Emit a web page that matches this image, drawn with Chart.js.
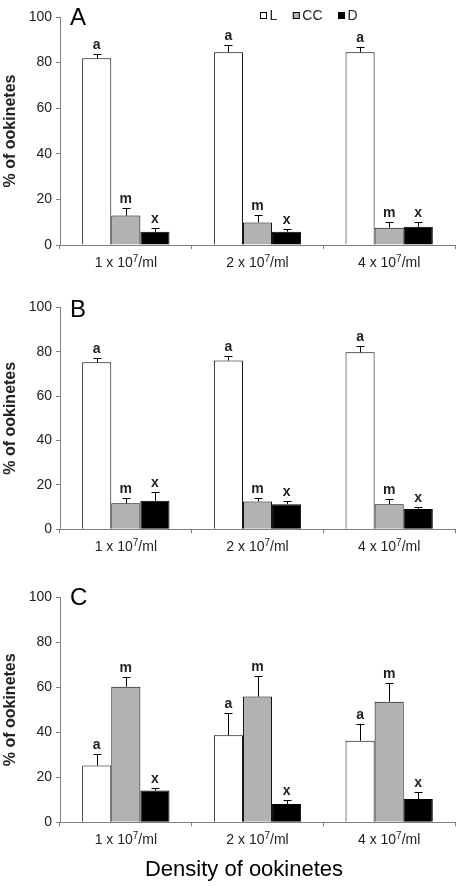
<!DOCTYPE html>
<html><head><meta charset="utf-8">
<script src="https://cdn.jsdelivr.net/npm/chart.js@4.4.1/dist/chart.umd.min.js"></script>
<style>
html,body{margin:0;padding:0;background:#fff;width:463px;height:887px;overflow:hidden}
.p{position:absolute;left:0;width:463px}
canvas{display:block}
</style></head><body>
<div class="p" style="top:0;height:290px"><canvas id="cA" width="463" height="290"></canvas></div>
<div class="p" style="top:290px;height:290px"><canvas id="cB" width="463" height="290"></canvas></div>
<div class="p" style="top:580px;height:307px"><canvas id="cC" width="463" height="307"></canvas></div>
<script>
// ---- data ----
const categories = ['1 x 10\u2077/ml', '2 x 10\u2077/ml', '4 x 10\u2077/ml'];
const seriesNames = ['L', 'CC', 'D'];
const seriesLetters = ['a', 'm', 'x'];
const yTickValues = [0, 20, 40, 60, 80, 100];

const A_L = [81.9, 84.5, 84.5];   const A_L_err = [1.7, 3.2, 2.2];
const A_CC = [12.9, 9.9, 7.6];    const A_CC_err = [3.5, 3.1, 2.3];
const A_D = [5.8, 5.8, 8.0];      const A_D_err = [1.8, 1.4, 1.9];

const B_L = [75.2, 76.0, 79.7];   const B_L_err = [1.8, 1.9, 2.7];
const B_CC = [11.7, 12.5, 11.3];  const B_CC_err = [2.3, 1.5, 2.2];
const B_D = [12.9, 11.3, 9.2];    const B_D_err = [3.8, 1.3, 0.7];

const C_L = [25.3, 38.7, 36.3];   const C_L_err = [4.9, 10.0, 7.6];
const C_CC = [60.3, 55.9, 53.6];  const C_CC_err = [4.4, 9.3, 8.5];
const C_D = [14.1, 8.1, 10.4];    const C_D_err = [1.3, 1.7, 2.9];

const yLabel = '% of ookinetes';
const xLabel = 'Density of ookinetes';

// ---- styles ----
const FONT = '"Liberation Sans", Arial, Helvetica, sans-serif';
const fills = ['#ffffff', '#b2b2b2', '#000000'];
const TXT = '#222222';
const AXIS = '#808080';

function drawCategoryLabel(ctx, text, cx, topY) {
  // render "10\u2077" with a real raised superscript
  const idx = text.indexOf('\u2077');
  const pre = idx >= 0 ? text.slice(0, idx) : text;
  const sup = idx >= 0 ? '7' : '';
  const post = idx >= 0 ? text.slice(idx + 1) : '';
  const big = '14px ' + FONT, small = '10px ' + FONT;
  ctx.font = big; const w1 = ctx.measureText(pre).width, w3 = ctx.measureText(post).width;
  ctx.font = small; const w2 = ctx.measureText(sup).width;
  let x = cx - (w1 + w2 + w3) / 2;
  const base = topY + 11;
  ctx.textAlign = 'left';
  ctx.textBaseline = 'alphabetic';
  ctx.fillStyle = TXT;
  ctx.font = big; ctx.fillText(pre, x, base); x += w1;
  ctx.font = small; ctx.fillText(sup, x, base - 4.5); x += w2;
  ctx.font = big; ctx.fillText(post, x, base);
}

const panelPlugin = {
  id: 'panelExtras',
  afterDatasetsDraw(chart, args, opts) {
    const ctx = chart.ctx;
    const y = chart.scales.y;
    const xs = chart.scales.x;
    ctx.save();
    // category labels
    chart.data.labels.forEach((lab, i) => {
      drawCategoryLabel(ctx, lab, xs.getPixelForValue(i), chart.chartArea.bottom + 10.5);
    });
    // error bars + letters
    chart.data.datasets.forEach((ds, di) => {
      const meta = chart.getDatasetMeta(di);
      meta.data.forEach((el, i) => {
        const v = ds.data[i], e = ds.errors[i];
        const yTop = Math.round(y.getPixelForValue(v + e)) + 0.5;
        const yBar = y.getPixelForValue(v);
        const x = Math.round(el.x) + 0.5;
        ctx.strokeStyle = '#000';
        ctx.lineWidth = 1;
        ctx.beginPath();
        ctx.moveTo(x, yBar);
        ctx.lineTo(x, yTop);
        ctx.moveTo(x - 4, yTop);
        ctx.lineTo(x + 4, yTop);
        ctx.stroke();
        ctx.fillStyle = TXT;
        ctx.font = 'bold 14px ' + FONT;
        ctx.textAlign = 'center';
        ctx.textBaseline = 'alphabetic';
        ctx.fillText(ds.letter, el.x, yTop - 5.5);
      });
    });
    // panel letter
    ctx.fillStyle = '#000';
    ctx.font = '24px ' + FONT;
    ctx.textAlign = 'left';
    ctx.textBaseline = 'alphabetic';
    ctx.fillText(opts.letter, 70, opts.letterY);
    // legend
    if (opts.legend) {
      let lx = 260;
      const ly = 15.5;
      ctx.font = '14px ' + FONT;
      ctx.textBaseline = 'middle';
      chart.data.datasets.forEach((ds) => {
        ctx.fillStyle = ds.backgroundColor;
        ctx.fillRect(lx, ly - 3.5, 7, 7);
        ctx.strokeStyle = '#000';
        ctx.lineWidth = 1;
        ctx.strokeRect(lx + 0.5, ly - 3.5 + 0.5, 6, 6);
        ctx.fillStyle = TXT;
        ctx.fillText(ds.label, lx + 9.5, ly + 0.5);
        lx += 9.5 + ctx.measureText(ds.label).width + 15.5;
      });
    }
    // x title
    if (opts.xTitle) {
      ctx.fillStyle = '#000';
      ctx.font = '22px ' + FONT;
      ctx.textAlign = 'center';
      ctx.textBaseline = 'middle';
      ctx.fillText(opts.xTitle, 244, opts.xTitleY);
    }
    ctx.restore();
  }
};

function makePanel(id, H, areaTop, areaBottom, L, Le, CC, CCe, D, De, extras) {
  const vals = [L, CC, D], errs = [Le, CCe, De];
  const datasets = seriesNames.map((n, i) => ({
    label: n,
    data: vals[i],
    errors: errs[i],
    letter: seriesLetters[i],
    backgroundColor: fills[i],
    borderColor: '#000',
    borderWidth: 1,
    borderSkipped: 'bottom',
    categoryPercentage: 0.663,
    barPercentage: 1.0
  }));
  return new Chart(document.getElementById(id), {
    type: 'bar',
    data: { labels: categories, datasets },
    options: {
      responsive: false,
      animation: false,
      layout: { padding: { top: areaTop, left: 0, right: 8, bottom: 0 } },
      plugins: { legend: { display: false }, tooltip: { enabled: false }, panelExtras: extras },
      scales: {
        x: {
          grid: { display: true, drawOnChartArea: false, drawTicks: true, tickLength: 4, color: AXIS, offset: true },
          border: { display: true, color: AXIS, width: 1 },
          ticks: { display: false },
          afterFit(s) { s.height = H - areaBottom; }
        },
        y: {
          min: 0, max: 100,
          afterBuildTicks(s) { s.ticks = yTickValues.map(v => ({ value: v })); },
          grid: { display: true, drawOnChartArea: false, drawTicks: true, tickLength: 4, color: AXIS },
          border: { display: true, color: AXIS, width: 1 },
          ticks: { color: TXT, font: { family: FONT, size: 14 }, padding: 4 },
          title: { display: true, text: yLabel, color: TXT, font: { family: FONT, size: 16, weight: 'bold' }, padding: { top: 1, bottom: 0 } },
          afterFit(s) { s.width = 60; }
        }
      }
    },
    plugins: [panelPlugin]
  });
}

makePanel('cA', 290, 17, 245, A_L, A_L_err, A_CC, A_CC_err, A_D, A_D_err,
  { letter: 'A', letterY: 25, legend: true });
makePanel('cB', 290, 17.3, 239.3, B_L, B_L_err, B_CC, B_CC_err, B_D, B_D_err,
  { letter: 'B', letterY: 26.5, legend: false });
makePanel('cC', 307, 17.3, 242.3, C_L, C_L_err, C_CC, C_CC_err, C_D, C_D_err,
  { letter: 'C', letterY: 24.5, legend: false, xTitle: xLabel, xTitleY: 290 });
</script>
</body></html>
